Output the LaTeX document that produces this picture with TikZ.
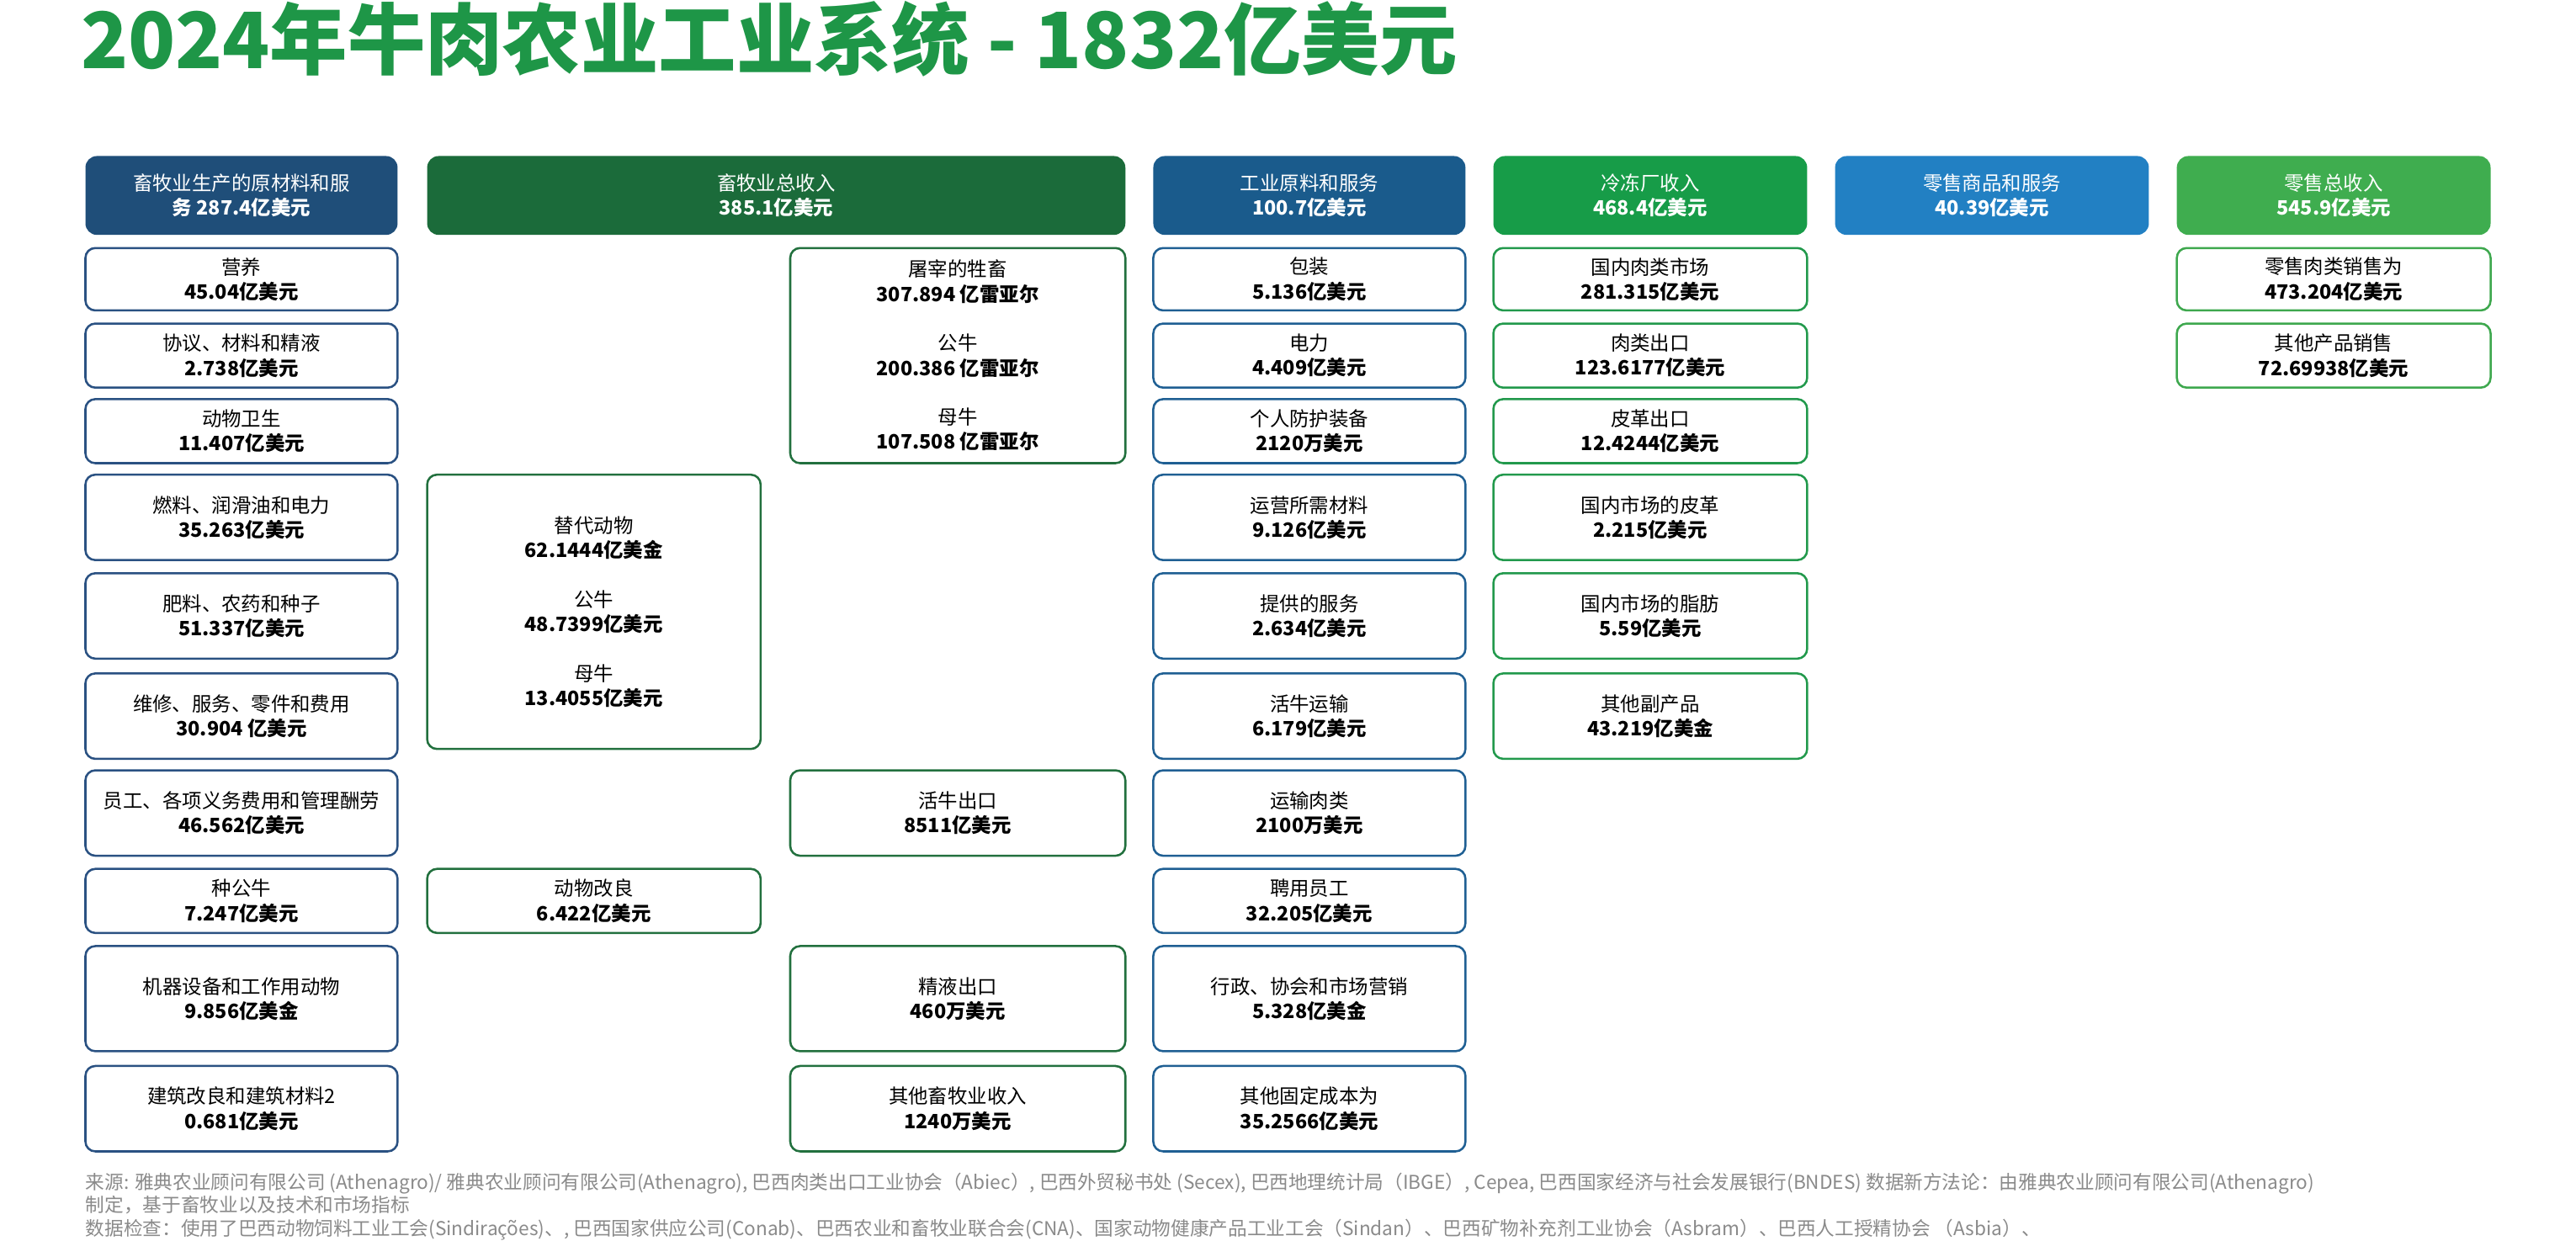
\documentclass[tikz,border=0pt]{standalone}
\usepackage{fontspec}
\setmainfont{Noto Sans CJK SC}
\definecolor{hdrA}{HTML}{1F4E79}
\definecolor{hdrB}{HTML}{1B6B3A}
\definecolor{hdrC}{HTML}{1A5B8C}
\definecolor{hdrD}{HTML}{179C48}
\definecolor{hdrE}{HTML}{2280C3}
\definecolor{hdrF}{HTML}{3FAD4F}
\definecolor{olA}{HTML}{2A5182}
\definecolor{olB}{HTML}{22703E}
\definecolor{olC}{HTML}{1F5F93}
\definecolor{olD}{HTML}{22994C}
\definecolor{olF}{HTML}{3EA84E}
\definecolor{titlegreen}{HTML}{1E9647}
\definecolor{notegray}{HTML}{8A8A8A}
\tikzset{
  hdr/.style={rounded corners=7pt, inner sep=0pt, text=white, align=center,
    font=\fontsize{12}{15}\selectfont, minimum height=48pt},
  itm/.style={draw, line width=1.3pt, rounded corners=6pt, inner sep=0pt, fill=white,
    text=black, align=center, font=\fontsize{12}{15}\selectfont},
  wA/.style={minimum width=190pt},
  wB/.style={minimum width=203pt},
  wH/.style={minimum width=191pt},
  note/.style={anchor=base west, inner sep=0pt, text=notegray, font=\fontsize{11.6}{14}\selectfont},
}
\begin{document}
\begin{tikzpicture}[x=1pt,y=-1pt]
\useasboundingbox (0,0) rectangle (1568,765);
% title
\node[anchor=base west, inner sep=0pt, text=titlegreen, font=\fontsize{47.3}{52}\bfseries\selectfont] (title) at (49,42) {2024年牛肉农业工业系统 - 1832亿美元};

% headers
\node[hdr, wA, fill=hdrA] (hA) at (147,119) {畜牧业生产的原材料和服\\\textbf{务 287.4亿美元}};
\node[hdr, minimum width=425pt, fill=hdrB] (hB) at (472.5,119) {畜牧业总收入\\\textbf{385.1亿美元}};
\node[hdr, wA, fill=hdrC] (hC) at (797,119) {工业原料和服务\\\textbf{100.7亿美元}};
\node[hdr, wH, fill=hdrD] (hD) at (1004.5,119) {冷冻厂收入\\\textbf{468.4亿美元}};
\node[hdr, wH, fill=hdrE] (hE) at (1212.5,119) {零售商品和服务\\\textbf{40.39亿美元}};
\node[hdr, wH, fill=hdrF] (hF) at (1420.5,119) {零售总收入\\\textbf{545.9亿美元}};

% column 1
\node[itm, wA, draw=olA, minimum height=38pt] (a1) at (147,170) {营养\\\textbf{45.04亿美元}};
\node[itm, wA, draw=olA, minimum height=39pt] (a2) at (147,216.5) {协议、材料和精液\\\textbf{2.738亿美元}};
\node[itm, wA, draw=olA, minimum height=39pt] (a3) at (147,262.5) {动物卫生\\\textbf{11.407亿美元}};
\node[itm, wA, draw=olA, minimum height=52pt] (a4) at (147,315) {燃料、润滑油和电力\\\textbf{35.263亿美元}};
\node[itm, wA, draw=olA, minimum height=52pt] (a5) at (147,375) {肥料、农药和种子\\\textbf{51.337亿美元}};
\node[itm, wA, draw=olA, minimum height=52pt] (a6) at (147,436) {维修、服务、零件和费用\\\textbf{30.904 亿美元}};
\node[itm, wA, draw=olA, minimum height=52pt] (a7) at (147,495) {员工、各项义务费用和管理酬劳\\\textbf{46.562亿美元}};
\node[itm, wA, draw=olA, minimum height=39pt] (a8) at (147,548.5) {种公牛\\\textbf{7.247亿美元}};
\node[itm, wA, draw=olA, minimum height=64pt] (a9) at (147,608) {机器设备和工作用动物\\\textbf{9.856亿美金}};
\node[itm, wA, draw=olA, minimum height=52pt] (a10) at (147,675) {建筑改良和建筑材料2\\\textbf{0.681亿美元}};

% column 2a
\node[itm, wB, draw=olB, minimum height=167pt] (b1) at (361.5,372.5) {替代动物\\\textbf{62.1444亿美金}\\[15pt]公牛\\\textbf{48.7399亿美元}\\[15pt]母牛\\\textbf{13.4055亿美元}};
\node[itm, wB, draw=olB, minimum height=39pt] (b2) at (361.5,548.5) {动物改良\\\textbf{6.422亿美元}};

% column 2b
\node[itm, minimum width=204pt, draw=olB, minimum height=131pt] (c1) at (583,216.5) {屠宰的牲畜\\\textbf{307.894 亿雷亚尔}\\[15pt]公牛\\\textbf{200.386 亿雷亚尔}\\[15pt]母牛\\\textbf{107.508 亿雷亚尔}};
\node[itm, minimum width=204pt, draw=olB, minimum height=52pt] (c2) at (583,495) {活牛出口\\\textbf{8511亿美元}};
\node[itm, minimum width=204pt, draw=olB, minimum height=64pt] (c3) at (583,608) {精液出口\\\textbf{460万美元}};
\node[itm, minimum width=204pt, draw=olB, minimum height=52pt] (c4) at (583,675) {其他畜牧业收入\\\textbf{1240万美元}};

% column 3
\node[itm, wA, draw=olC, minimum height=38pt] (d1) at (797,170) {包装\\\textbf{5.136亿美元}};
\node[itm, wA, draw=olC, minimum height=39pt] (d2) at (797,216.5) {电力\\\textbf{4.409亿美元}};
\node[itm, wA, draw=olC, minimum height=39pt] (d3) at (797,262.5) {个人防护装备\\\textbf{2120万美元}};
\node[itm, wA, draw=olC, minimum height=52pt] (d4) at (797,315) {运营所需材料\\\textbf{9.126亿美元}};
\node[itm, wA, draw=olC, minimum height=52pt] (d5) at (797,375) {提供的服务\\\textbf{2.634亿美元}};
\node[itm, wA, draw=olC, minimum height=52pt] (d6) at (797,436) {活牛运输\\\textbf{6.179亿美元}};
\node[itm, wA, draw=olC, minimum height=52pt] (d7) at (797,495) {运输肉类\\\textbf{2100万美元}};
\node[itm, wA, draw=olC, minimum height=39pt] (d8) at (797,548.5) {聘用员工\\\textbf{32.205亿美元}};
\node[itm, wA, draw=olC, minimum height=64pt] (d9) at (797,608) {行政、协会和市场营销\\\textbf{5.328亿美金}};
\node[itm, wA, draw=olC, minimum height=52pt] (d10) at (797,675) {其他固定成本为\\\textbf{35.2566亿美元}};

% column 4
\node[itm, wH, draw=olD, minimum height=38pt] (e1) at (1004.5,170) {国内肉类市场\\\textbf{281.315亿美元}};
\node[itm, wH, draw=olD, minimum height=39pt] (e2) at (1004.5,216.5) {肉类出口\\\textbf{123.6177亿美元}};
\node[itm, wH, draw=olD, minimum height=39pt] (e3) at (1004.5,262.5) {皮革出口\\\textbf{12.4244亿美元}};
\node[itm, wH, draw=olD, minimum height=52pt] (e4) at (1004.5,315) {国内市场的皮革\\\textbf{2.215亿美元}};
\node[itm, wH, draw=olD, minimum height=52pt] (e5) at (1004.5,375) {国内市场的脂肪\\\textbf{5.59亿美元}};
\node[itm, wH, draw=olD, minimum height=52pt] (e6) at (1004.5,436) {其他副产品\\\textbf{43.219亿美金}};

% column 6
\node[itm, wH, draw=olF, minimum height=38pt] (f1) at (1420.5,170) {零售肉类销售为\\\textbf{473.204亿美元}};
\node[itm, wH, draw=olF, minimum height=39pt] (f2) at (1420.5,216.5) {其他产品销售\\\textbf{72.69938亿美元}};

% footnotes
\node[note] (n1) at (52,724) {来源: 雅典农业顾问有限公司 (Athenagro)/ 雅典农业顾问有限公司(Athenagro), 巴西肉类出口工业协会（Abiec）, 巴西外贸秘书处 (Secex), 巴西地理统计局（IBGE）, Cepea, 巴西国家经济与社会发展银行(BNDES) 数据新方法论：由雅典农业顾问有限公司(Athenagro)};
\node[note] (n2) at (52,738) {制定，基于畜牧业以及技术和市场指标};
\node[note] (n3) at (52,752) {数据检查：使用了巴西动物饲料工业工会(Sindirações)、, 巴西国家供应公司(Conab)、巴西农业和畜牧业联合会(CNA)、国家动物健康产品工业工会（Sindan）、巴西矿物补充剂工业协会（Asbram）、巴西人工授精协会 （Asbia）、};
\end{tikzpicture}
\end{document}
